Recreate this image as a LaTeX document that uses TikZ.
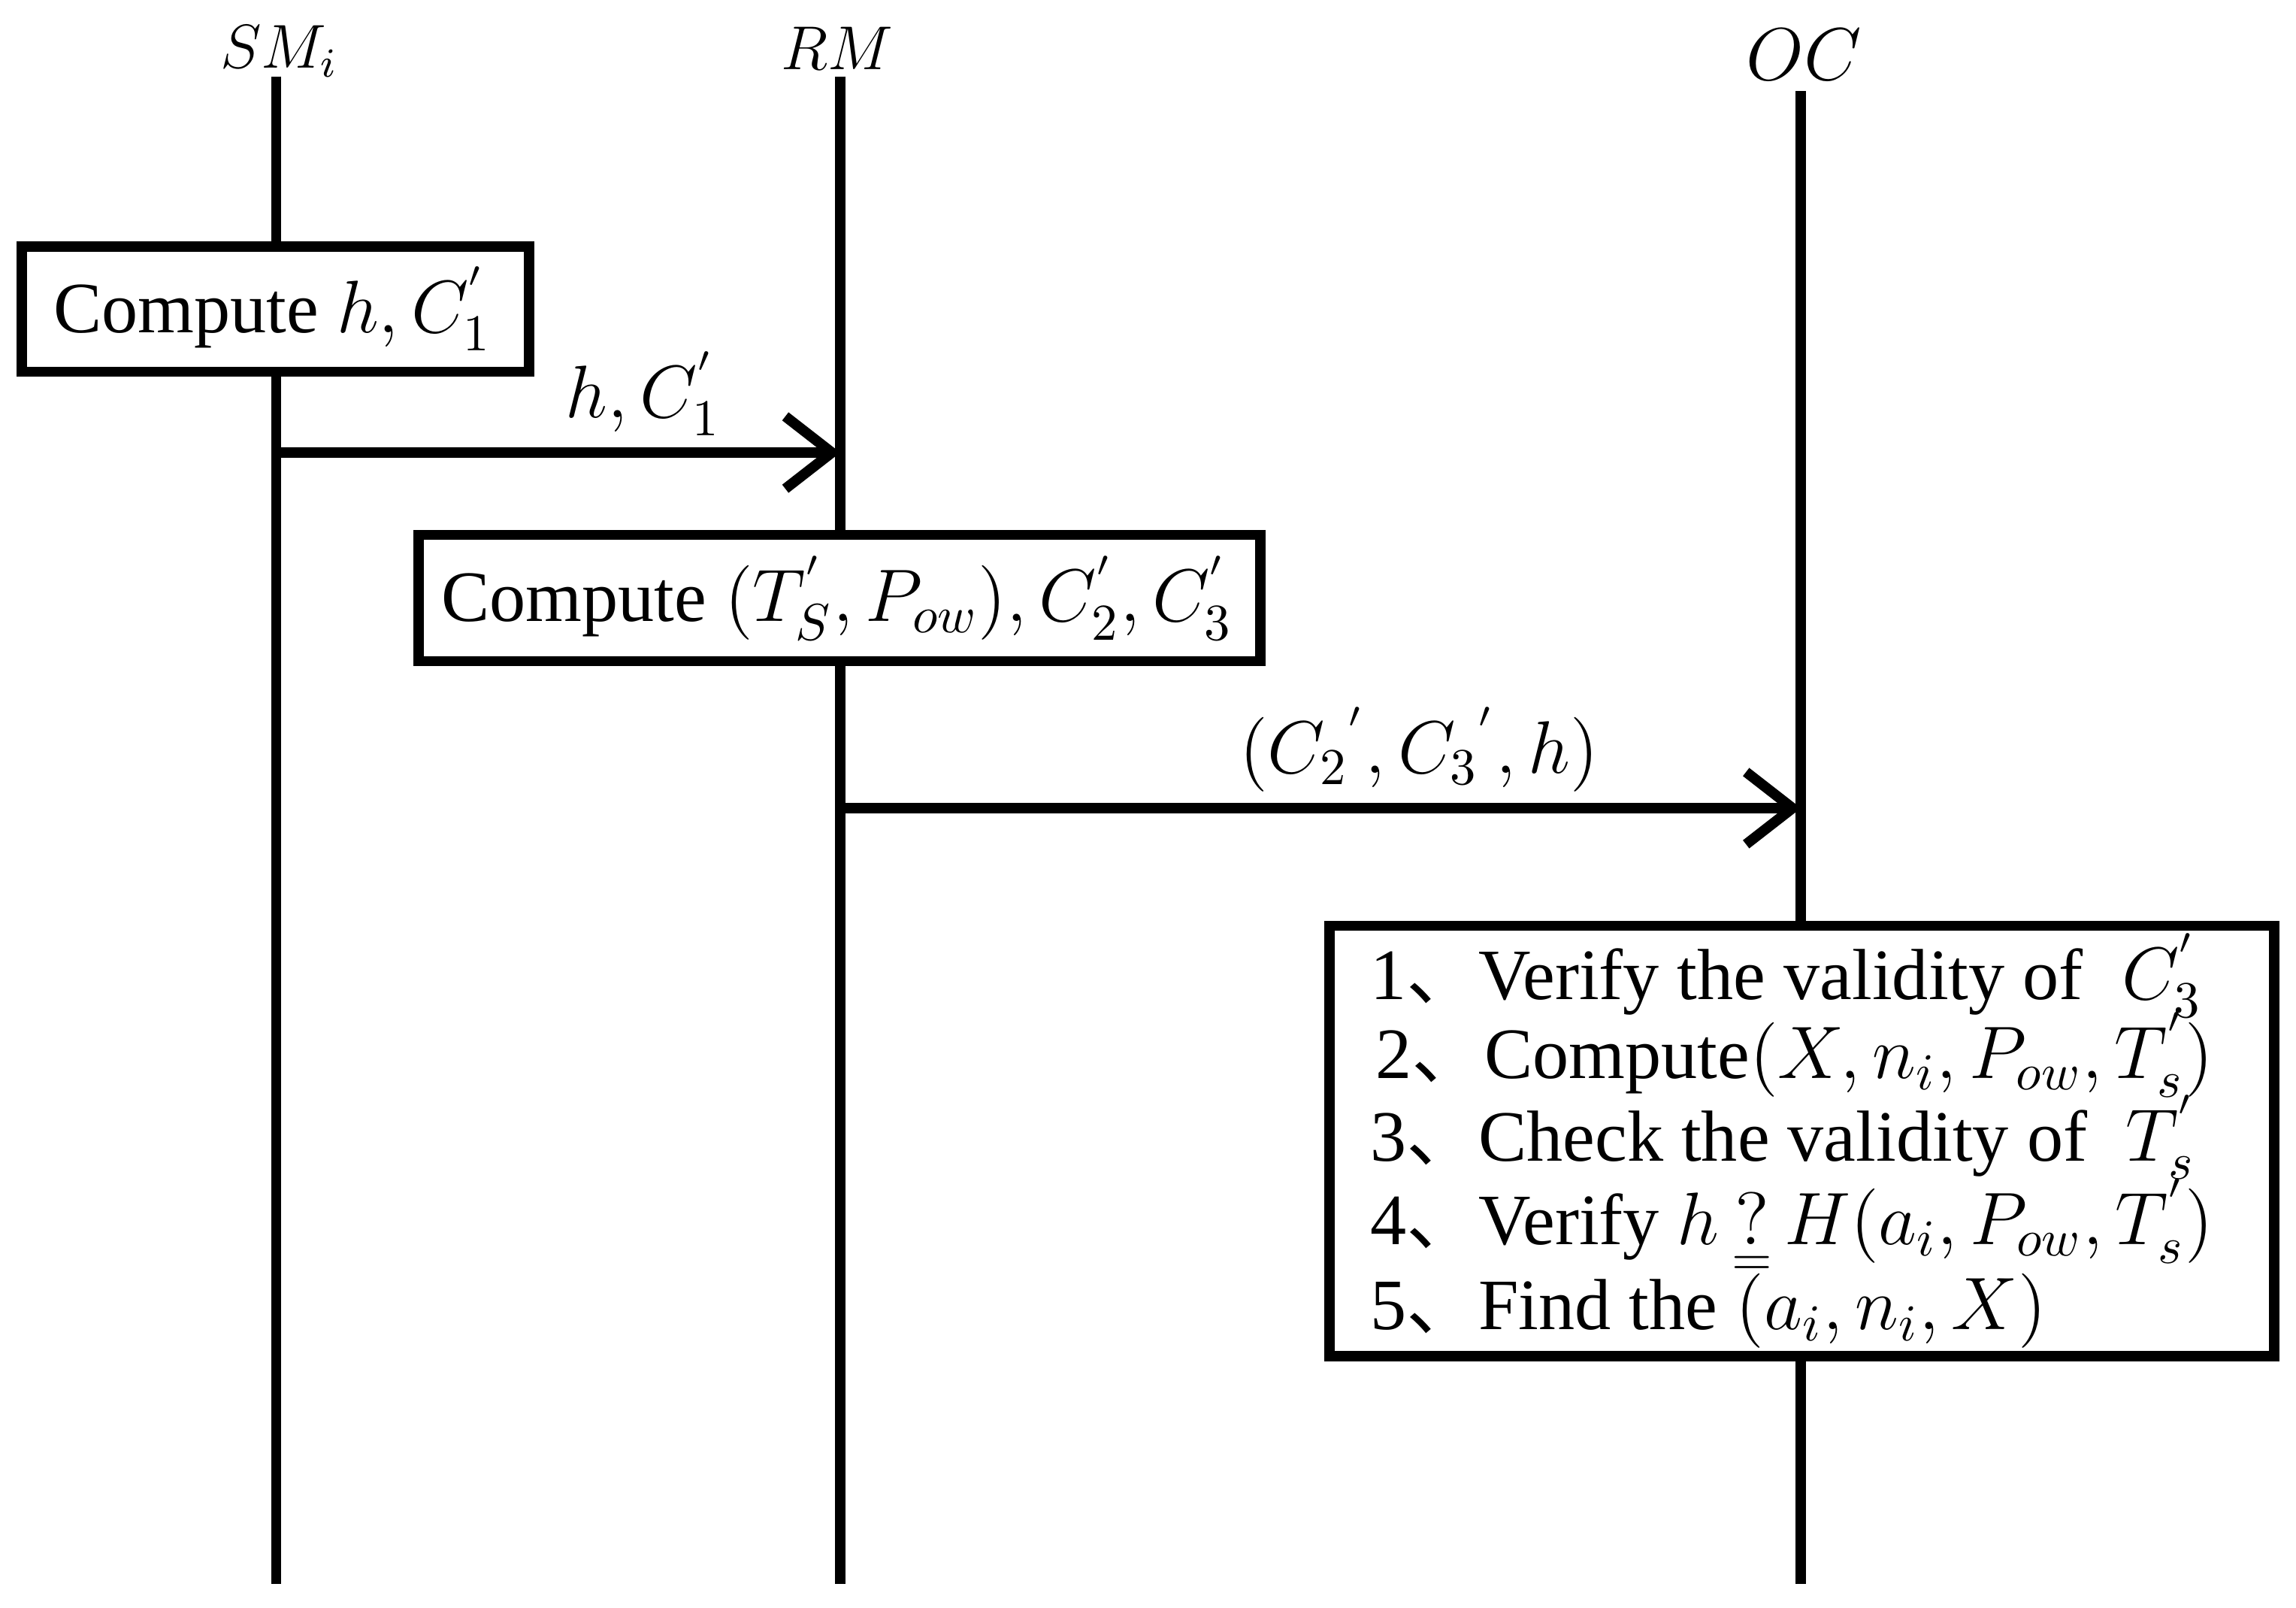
\documentclass[tikz,border=0pt]{standalone}
\usepackage{fontspec}
\setmainfont{Liberation Serif}
\newfontfamily\cjk{Noto Sans CJK SC}
\usetikzlibrary{arrows.meta}
\begin{document}
\begin{tikzpicture}[x=0.01cm,y=-0.01cm,
 life/.style={line width=2pt},
 box/.style={draw,line width=2pt,fill=white,inner sep=0pt},
 msg/.style={line width=2pt,-{Straight Barb[length=9pt,width=14pt,line width=2pt]}},
 lbl/.style={font=\fontsize{14}{16}\selectfont},
 item/.style={lbl,anchor=west,inner sep=0pt}]
\useasboundingbox (0,0) rectangle (1563,1094);
\node[lbl,font=\fontsize{12}{14}\selectfont] (smt) at (190,35) {$SM_i$};
\node[lbl,font=\fontsize{12}{14}\selectfont] (rmt) at (570,33) {$RM$};
\node[lbl] (oct) at (1228,37) {$OC$};
\coordinate (sm0) at (188,52); \coordinate (sm1) at (188,1078);
\coordinate (rm0) at (572,52); \coordinate (rm1) at (572,1078);
\coordinate (oc0) at (1226,62); \coordinate (oc1) at (1226,1078);
\draw[life] (sm0)--(sm1); \draw[life] (rm0)--(rm1); \draw[life] (oc0)--(oc1);
\draw[box] (15,168) rectangle (360,253);
\node[lbl,anchor=west] (b1) at (24,210) {Compute $h,C_1^{'}$};
\coordinate (a1s) at (188,308); \coordinate (a1e) at (572,308);
\draw[msg] (a1s)--(a1e);
\node[lbl] (l1) at (438,268) {$h,C_1^{'}$};
\draw[box] (285,364) rectangle (858,450);
\node[lbl,anchor=west] (b2) at (288,407) {Compute $(T_S^{'},P_{ow}),C_2^{'},C_3^{'}$};
\coordinate (a2s) at (572,550); \coordinate (a2e) at (1226,550);
\draw[msg] (a2s)--(a2e);
\node[lbl] (l2) at (966,510) {$(C_2{}^{'},C_3{}^{'},h)$};
\draw[box] (905,630) rectangle (1548,923);
\node[item] (t1) at (932,668) {1{\cjk 、}Verify the validity of $\;\smash{C_3^{'}}$};
\node[item] (t2) at (936,723) {2{\cjk 、}Compute$\smash{(X,n_i,P_{ow},T_s^{'})}$};
\node[item] (t3) at (932,778) {3{\cjk 、}Check the validity of $\;\smash{T_s^{'}}$};
\node[item] (t4) at (932,835) {4{\cjk 、}Verify $\smash{h\mathop{?}\limits_{=}H(a_i,P_{ow},T_s^{'})}$};
\node[item] (t5) at (932,889) {5{\cjk 、}Find the $\smash{(a_i,n_i,X)}$};
\end{tikzpicture}
\end{document}
